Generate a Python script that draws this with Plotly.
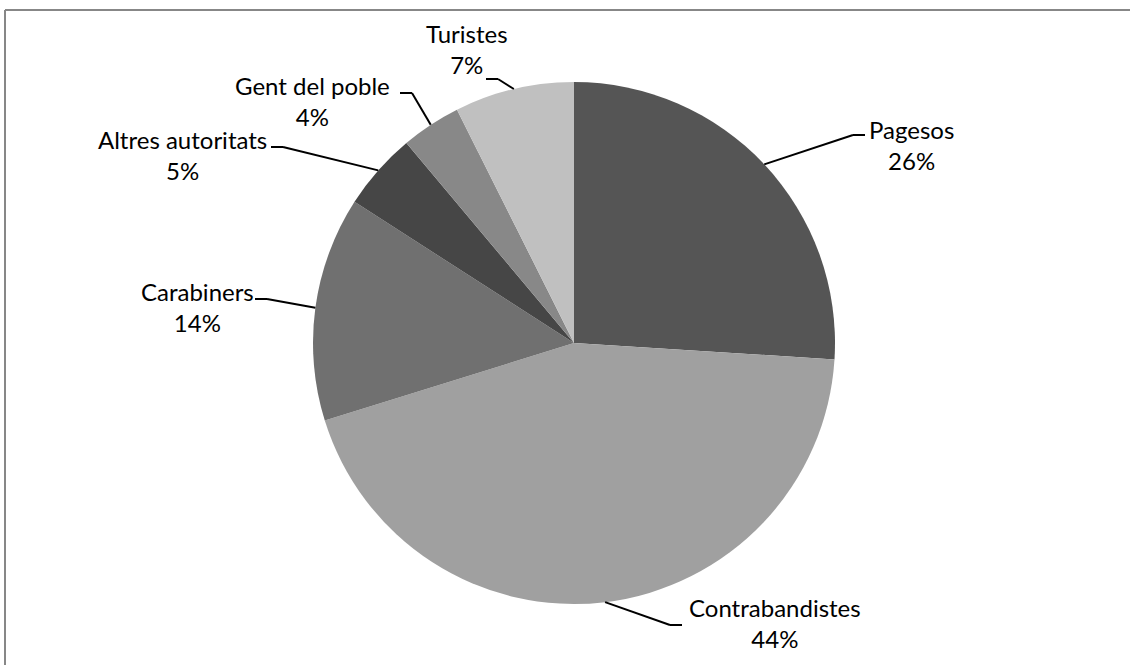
import math
import plotly.graph_objects as go

# ---- data ----
categories = ["Pagesos", "Contrabandistes", "Carabiners", "Altres autoritats", "Gent del poble", "Turistes"]
values = [26.0, 44.2, 13.9, 4.8, 3.7, 7.4]

# ---- style / layout ----
W, H = 1130, 665
colors = ["#555555", "#a0a0a0", "#707070", "#464646", "#888888", "#c0c0c0"]
CX, CY, R = 574, 343, 261  # pie centre and radius in px
# label block centres (px) and leader-line elbows (px), Excel-like placement
label_centers = [(911, 145), (775, 623), (197, 307), (182, 155), (312, 101), (467, 49)]
elbows = [(853, 135), (670, 625), (267, 299), (283, 147), (412, 93), (498, 79)]
FONT = dict(family="Lato, 'Open Sans', sans-serif", size=24, color="#000000")


def px(x):
    return x / W


def py(y):
    return 1 - y / H


total = sum(values)
pct_labels = [f"{round(v / total * 100)}%" for v in values]

fig = go.Figure(
    go.Pie(
        labels=categories,
        values=values,
        sort=False,
        direction="clockwise",
        rotation=0,
        marker=dict(colors=colors, line=dict(width=0)),
        textinfo="none",
        hoverinfo="label+percent",
        showlegend=False,
        domain=dict(x=[px(CX - R), px(CX + R)], y=[py(CY + R), py(CY - R)]),
    )
)

shapes = []
annotations = []
cum = 0.0
for i, (cat, v) in enumerate(zip(categories, values)):
    mid = (cum + v / 2) / total * 2 * math.pi
    cum += v
    ex = CX + R * math.sin(mid)
    ey = CY - R * math.cos(mid)
    bx, by = elbows[i]
    lx, ly = label_centers[i]
    hx = bx + (12 if lx > bx else -12)
    shapes.append(dict(type="line", xref="paper", yref="paper",
                       x0=px(ex), y0=py(ey), x1=px(bx), y1=py(by),
                       line=dict(color="#000000", width=2)))
    shapes.append(dict(type="line", xref="paper", yref="paper",
                       x0=px(bx), y0=py(by), x1=px(hx), y1=py(by),
                       line=dict(color="#000000", width=2)))
    annotations.append(dict(xref="paper", yref="paper", x=px(lx), y=py(ly),
                            xanchor="center", yanchor="middle", showarrow=False,
                            align="center", text=f"{cat}<br>{pct_labels[i]}", font=FONT))

# chart border (top and left edges visible)
shapes.append(dict(type="line", xref="paper", yref="paper", x0=px(5), y0=py(10), x1=px(W + 5), y1=py(10),
                   line=dict(color="#878787", width=2)))
shapes.append(dict(type="line", xref="paper", yref="paper", x0=px(5), y0=py(10), x1=px(5), y1=py(H + 5),
                   line=dict(color="#878787", width=2)))

fig.update_layout(
    width=W, height=H,
    margin=dict(l=0, r=0, t=0, b=0),
    paper_bgcolor="white", plot_bgcolor="white",
    shapes=shapes, annotations=annotations,
)

fig.write_html("out.html")
